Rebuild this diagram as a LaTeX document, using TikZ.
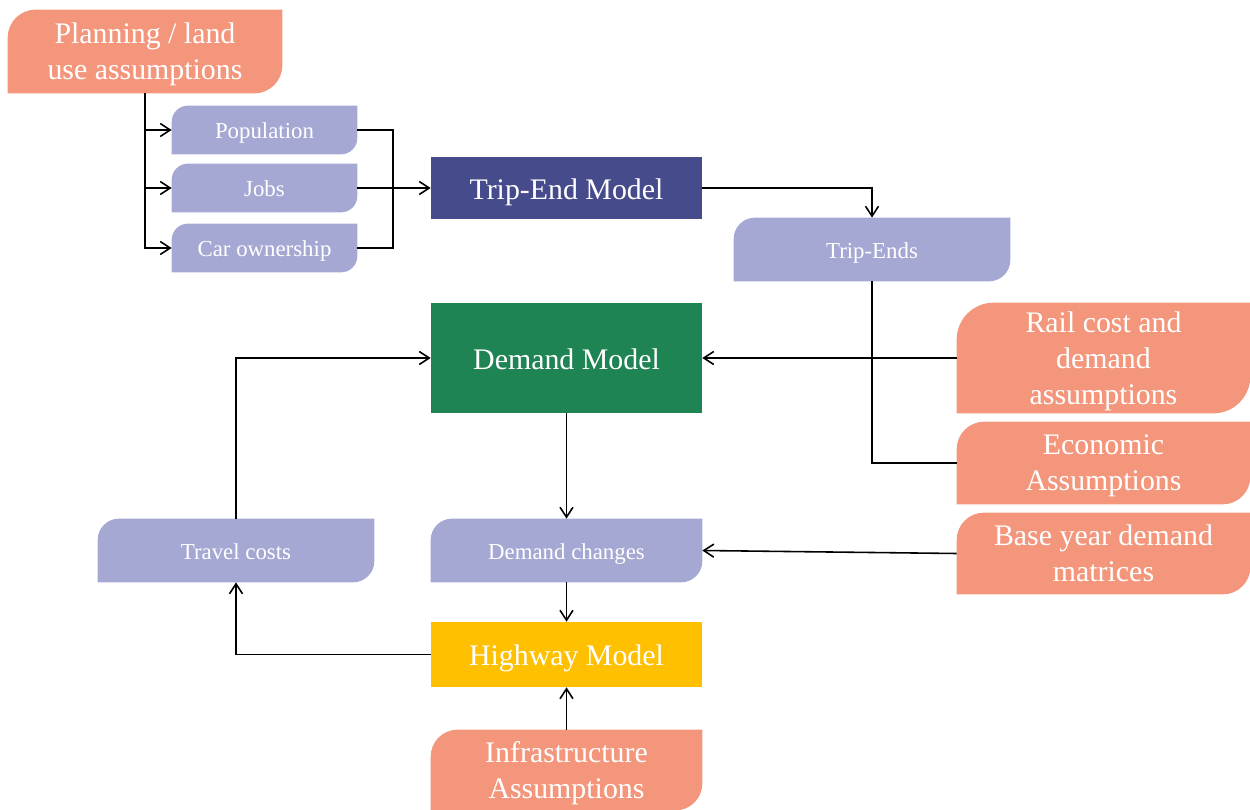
\documentclass[tikz,border=0pt]{standalone}
\usepackage{fontspec}
\setmainfont{Liberation Serif}
\usepackage{tikz}
\usetikzlibrary{arrows.meta, calc, backgrounds}
\definecolor{salmon}{RGB}{244, 150, 124}
\definecolor{lavender}{RGB}{166, 168, 212}
\definecolor{tripblue}{RGB}{70, 75, 140}
\definecolor{demandgreen}{RGB}{31, 132, 84}
\definecolor{highwayyellow}{RGB}{255, 192, 0}

\begin{document}
\begin{tikzpicture}[
    x=0.02cm, y=0.02cm,
    assume/.style={rectangle, inner sep=0pt, align=center, text=white, text depth=-4pt, font=\fontsize{17}{20.5}\selectfont},
    data/.style={rectangle, inner sep=0pt, align=center, text=white, text height=10pt, text depth=0pt, font=\fontsize{13}{15}\selectfont},
    model/.style={rectangle, fill=#1, inner sep=0pt, text=white, align=center, minimum width=5.42cm, text height=12.8pt, text depth=0pt, font=\fontsize{17}{20.5}\selectfont},
    arr/.style={-{Straight Barb[length=2mm, width=2.6mm]}, line width=0.9pt},
    link/.style={line width=0.9pt}
]
    \useasboundingbox (0,0) rectangle (1250,-810);

    % inputs
    \node[assume, minimum width=5.48cm, minimum height=1.66cm] (plan) at (145,-51.5) {Planning / land\\use assumptions};
    \node[data, minimum width=3.7cm, minimum height=0.96cm] (pop) at (264.5,-130) {Population};
    \node[data, minimum width=3.7cm, minimum height=0.96cm] (jobs) at (264.5,-188) {Jobs};
    \node[data, minimum width=3.7cm, minimum height=0.96cm] (car) at (264.5,-248) {Car ownership};
    \coordinate (merge) at (393,-188);

    % models
    \node[model=tripblue, minimum height=1.24cm] (tem) at (566.5,-188) {Trip-End Model};
    \node[data, minimum width=5.52cm, minimum height=1.26cm] (tends) at (872,-249.5) {Trip-Ends};
    \node[model=demandgreen, minimum height=2.2cm] (dm) at (566.5,-358) {Demand Model};
    \node[data, minimum width=5.42cm, minimum height=1.26cm] (dc) at (566.5,-550.5) {Demand changes};
    \node[data, minimum width=5.52cm, minimum height=1.26cm] (travel) at (236,-550.5) {Travel costs};
    \node[model=highwayyellow, minimum height=1.3cm] (hw) at (566.5,-654.5) {Highway Model};

    % assumptions
    \node[assume, minimum width=5.86cm, minimum height=2.2cm] (rail) at (1103.5,-358) {Rail cost and\\demand\\assumptions};
    \node[assume, minimum width=5.86cm, minimum height=1.64cm] (econ) at (1103.5,-463) {Economic\\Assumptions};
    \node[assume, minimum width=5.86cm, minimum height=1.62cm] (base) at (1103.5,-553.5) {Base year demand\\matrices};
    \node[assume, minimum width=5.42cm, minimum height=1.6cm] (infra) at (566.5,-770) {Infrastructure\\Assumptions};

    % box shapes: top-left and bottom-right corners rounded
    \begin{scope}[on background layer]
        \foreach \nd/\col in {plan/salmon, rail/salmon, econ/salmon, base/salmon, infra/salmon,
                              pop/lavender, jobs/lavender, car/lavender, tends/lavender, dc/lavender, travel/lavender}
            \fill[\col] let \p1=(\nd.north east), \p2=(\nd.south west), \n1={(\y1-\y2)/3} in
                (\x2,\y2) -- (\x2,\y1-\n1) arc[start angle=180, end angle=90, radius=\n1]
                -- (\x1,\y1) -- (\x1,\y2+\n1) arc[start angle=0, end angle=-90, radius=\n1] -- cycle;
    \end{scope}

    % connectors
    \draw[arr] (plan.south) |- (pop.west);
    \draw[arr] (plan.south) |- (jobs.west);
    \draw[arr] (plan.south) |- (car.west);
    \draw[link] (pop.east) -| (merge);
    \draw[link] (car.east) -| (merge);
    \draw[arr] (jobs.east) -- (tem.west);
    \draw[arr] (tem.east) -| (tends.north);
    \draw[link] (tends.south) |- (econ.west);
    \draw[arr] (rail.west) -- (dm.east);
    \draw[arr] (dm.south) -- (dc.north);
    \draw[arr] (base.west) -- (dc.east);
    \draw[arr] (dc.south) -- (hw.north);
    \draw[arr] (infra.north) -- (hw.south);
    \draw[arr] (hw.west) -| (travel.south);
    \draw[arr] (travel.north) |- (dm.west);
\end{tikzpicture}
\end{document}
